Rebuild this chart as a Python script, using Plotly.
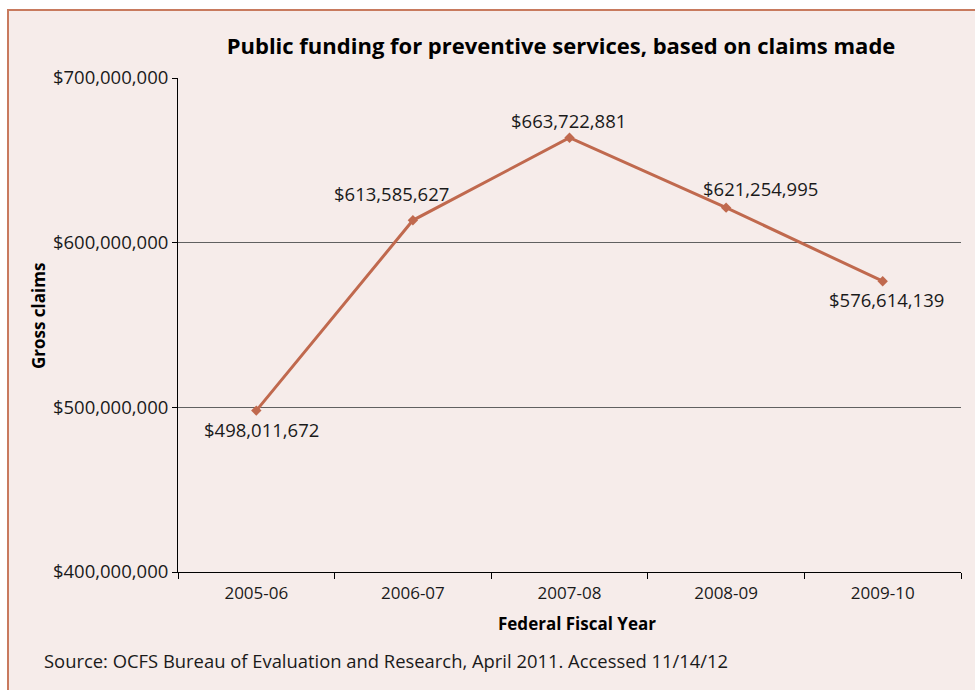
import plotly.graph_objects as go

years = ["2005-06", "2006-07", "2007-08", "2008-09", "2009-10"]
claims = [498011672, 613585627, 663722881, 621254995, 576614139]
y_ticks = [400000000, 500000000, 600000000, 700000000]

title = "Public funding for preventive services, based on claims made"
x_title = "Federal Fiscal Year"
y_title = "Gross claims"
source = "Source: OCFS Bureau of Evaluation and Research, April 2011. Accessed 11/14/12"

FONT = "Open Sans"
LINE = "#C0694E"
BG = "#F6ECEA"

W, H = 975, 690
ML, MR, MT, MB = 178, 14, 78, 118
PW, PH = W - ML - MR, H - MT - MB


def px(x):
    return (x - ML) / PW


def py(y):
    return (H - MB - y) / PH


fig = go.Figure()
fig.add_trace(go.Scatter(
    x=years, y=claims, mode="lines+markers",
    line=dict(color=LINE, width=3),
    marker=dict(symbol="diamond", size=8, color=LINE),
    hoverinfo="x+y", showlegend=False,
))

# label offsets (pixels) per point
offs = [(5, -19), (-21, 27), (-1, 17), (34, 19), (4, -18)]
for (xv, yv), (dx, dy) in zip(zip(years, claims), offs):
    fig.add_annotation(x=xv, y=yv, text="${:,}".format(yv), showarrow=False,
                       xshift=dx, yshift=dy, xanchor="center", yanchor="middle",
                       font=dict(family=FONT, size=18.5, color="#1a1a1a"))

fig.add_shape(type="rect", xref="paper", yref="paper",
              x0=px(8), x1=px(990), y0=py(10), y1=py(705),
              line=dict(color="#C87A5E", width=2), fillcolor=BG, layer="below")

fig.update_layout(
    width=W, height=H,
    margin=dict(l=ML, r=MR, t=MT, b=MB),
    paper_bgcolor="white", plot_bgcolor="rgba(0,0,0,0)",
    font=dict(family=FONT, size=16.5, color="#1a1a1a"),
    title=dict(text="<b>" + title + "</b>", xref="container", x=561 / W,
               xanchor="center", y=1 - 46 / H, yanchor="middle",
               font=dict(family=FONT, size=22, color="black")),
    xaxis=dict(type="category", range=[-0.5, 4.5], tickson="boundaries",
               ticks="outside", ticklen=6, tickcolor="black",
               ticklabelstandoff=6,
               showline=True, linecolor="black", linewidth=1,
               showgrid=False, zeroline=False, fixedrange=True,
               tickfont=dict(family=FONT, size=17)),
    yaxis=dict(range=[400000000, 700000000], tickvals=y_ticks,
               tickformat="$,.0f", ticks="outside", ticklen=5, tickcolor="black",
               showline=True, linecolor="black", linewidth=1,
               showgrid=True, gridcolor="#606060", gridwidth=1,
               zeroline=False, fixedrange=True,
               tickfont=dict(family=FONT, size=18.5)),
)

fig.add_annotation(xref="paper", yref="paper", x=px(577), y=py(624),
                   xanchor="center", yanchor="middle",
                   text="<b>" + x_title + "</b>", showarrow=False,
                   font=dict(family=FONT, size=17, color="black"))
fig.add_annotation(xref="paper", yref="paper", x=px(38), y=py(316),
                   xanchor="center", yanchor="middle",
                   text="<b>" + y_title + "</b>", showarrow=False, textangle=-90,
                   font=dict(family=FONT, size=17, color="black"))
fig.add_annotation(xref="paper", yref="paper", x=px(42), y=py(660),
                   xanchor="left", yanchor="middle", text=source, showarrow=False,
                   font=dict(family=FONT, size=18.4, color="#1a1a1a"))

fig.write_html("out.html")
